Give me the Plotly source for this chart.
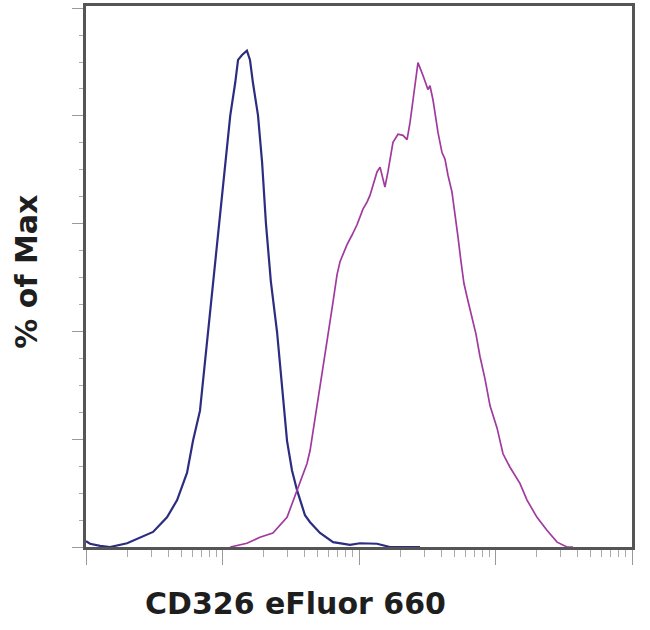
import plotly.graph_objects as go

# CD326 eFluor 660 intensity (log scale) and % of Max
blue_x = [10.0, 10.7, 12.7, 15.0, 20.0, 24.9, 31.0, 39.2, 46.5, 55.0, 60.8, 68.4, 78.3, 86.7,
          94.2, 101, 114, 124, 130, 139, 151, 159, 167, 182, 195, 208, 226, 251, 273, 297,
          323, 352, 402, 438, 518, 646, 859, 1016, 1355, 1687, 2800]
blue_y = [1.1, 0.6, 0.2, 0.0, 0.7, 1.7, 2.8, 5.5, 8.7, 13.8, 19.7, 25.3, 39.9, 50.9,
          60.1, 67.7, 80.1, 86.2, 90.4, 91.3, 92.1, 90.4, 86.2, 80.1, 71.4, 60.1, 49.3, 39.9, 29.0, 19.7,
          14.2, 10.5, 5.9, 4.6, 2.6, 0.9, 0.4, 0.7, 0.6, 0.0, 0.0]

magenta_x = [114, 151, 188, 234, 297, 352, 416, 438, 518, 583,
             646, 691, 727, 817, 889, 967, 1069, 1145, 1205, 1355,
             1426, 1549, 1629, 1774, 1931, 2100, 2249, 2366, 2489, 2661,
             2704, 2944, 3199, 3311, 3483, 3793, 4055, 4266, 4487, 4797,
             5047, 5309, 5585, 5875, 6295, 6730, 7194, 7691, 8375, 9120,
             10260, 11350, 12770, 15100, 17020, 20140, 23820, 28250, 33420, 36980]
magenta_y = [0.0, 0.7, 1.8, 2.6, 5.5, 10.5, 15.5, 17.9, 30.3, 38.2,
             45.6, 50.6, 53.0, 56.1, 57.9, 59.8, 62.7, 64.0, 65.3, 69.6,
             70.5, 66.8, 69.6, 75.1, 76.6, 76.4, 75.6, 78.8, 83.0, 89.3,
             89.9, 87.5, 84.9, 85.6, 83.0, 76.9, 73.2, 72.0, 69.0, 65.9,
             62.2, 57.6, 53.0, 48.9, 45.6, 42.8, 39.5, 35.4, 31.2, 26.2,
             22.1, 17.3, 14.8, 11.8, 8.7, 5.5, 3.1, 0.9, 0.0, 0.0]

x_major = [10, 100, 1000, 10000, 100000]
x_minor = [m * d for d in (10, 100, 1000, 10000) for m in range(2, 10)]
y_major = [0, 20, 40, 60, 80, 100]

x_title = "CD326 eFluor 660"
y_title = "% of Max"

fig = go.Figure()
fig.add_trace(go.Scatter(x=blue_x, y=blue_y, mode="lines",
                         line=dict(color="#2c2c80", width=2.2), showlegend=False))
fig.add_trace(go.Scatter(x=magenta_x, y=magenta_y, mode="lines",
                         line=dict(color="#a03a9e", width=1.7), showlegend=False))

fig.update_layout(
    width=650, height=630,
    margin=dict(l=86, r=18, t=3, b=83),
    paper_bgcolor="white", plot_bgcolor="white",
    xaxis=dict(type="log", range=[1, 5.0], showgrid=False, zeroline=False,
               showline=True, linecolor="#555555", linewidth=3, mirror=True,
               tickmode="array", tickvals=x_major, ticks="outside", ticklen=15,
               tickcolor="#999999", tickwidth=1, showticklabels=False,
               minor=dict(tickmode="array", tickvals=x_minor, ticks="outside",
                          ticklen=7, tickcolor="#aaaaaa", tickwidth=1)),
    yaxis=dict(range=[0, 100.4], showgrid=False, zeroline=False,
               showline=True, linecolor="#555555", linewidth=3, mirror=True,
               tickmode="array", tickvals=y_major, ticks="outside", ticklen=11,
               tickcolor="#999999", tickwidth=1, showticklabels=False,
               minor=dict(dtick=5, ticks="outside", ticklen=4,
                          tickcolor="#aaaaaa", tickwidth=1)),
    annotations=[
        dict(text=x_title, xref="paper", yref="paper", x=0.3846, y=-0.105,
             xanchor="center", yanchor="middle", showarrow=False,
             font=dict(family="DejaVu Sans", size=30, color="#1e1e1e", weight="bold")),
        dict(text=y_title, xref="paper", yref="paper", x=-0.108, y=0.509,
             xanchor="center", yanchor="middle", showarrow=False, textangle=-90,
             font=dict(family="DejaVu Sans", size=30, color="#1e1e1e", weight="bold")),
    ],
)

fig.write_html("out.html", config={"displayModeBar": False},
               post_script="document.body.style.margin='0';")
